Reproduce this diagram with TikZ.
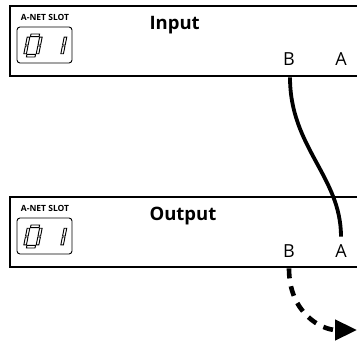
\documentclass[tikz,border=0pt]{standalone}
\usepackage{fontspec}
\setmainfont{Open Sans}
\usetikzlibrary{arrows.meta}
\tikzset{
	panel/.style = {draw, line width = 2.4pt, minimum width = 360pt, minimum height = 70pt, anchor = north west, inner sep = 0pt},
	title/.style = {font = \bfseries\fontsize{18.5}{18.5}\selectfont, anchor = base west},
	port/.style = {font = \fontsize{18}{18}\selectfont, anchor = base},
	slot/.style = {font = \bfseries\fontsize{8.5}{8.5}\selectfont},
	seg/.style = {draw, line width = 0.9pt, fill = white},
	cable/.style = {line width = 3.8pt},
	flow/.style = {line width = 4.6pt, dash pattern = on 10pt off 8pt, -{Triangle[length = 22pt, width = 20pt]}},
	pics/slotdisplay/.style = {code = {
		\node [slot] at (28,46) {A-NET SLOT};
		\draw [line width = 0.9pt, rounded corners = 3pt] (0,0) rectangle (55,36);
		\begin{scope} [xslant = 0.2, shift = {(5,6)}]
			% the 0
			\draw [seg] (3.2,20.4) rectangle (11.8,23);
			\draw [seg] (3.2,0) rectangle (11.8,2.6);
			\foreach \x in {0,12.4} {
				\draw [seg] (\x,3.2) rectangle (\x+2.6,11);
				\draw [seg] (\x,12) rectangle (\x+2.6,19.8);
			}
			% the 1
			\draw [seg] (37,3.2) rectangle (39.6,11);
			\draw [seg] (37,12) rectangle (39.6,19.8);
		\end{scope}
	}}
}
\begin{document}
\begin{tikzpicture} [x = 1pt, y = 1pt]
	\useasboundingbox (0,0) rectangle (357,341);
	% input module
	\node [panel] (inbox) at (9,336) {};
	\pic at (17,278) {slotdisplay};
	\node [title] (intitle) at (146,312) {Input};
	\node [port] (inB) at (289,275) {B};
	\node [port] (inA) at (341,275) {A};
	% output module
	\node [panel] (outbox) at (9,145) {};
	\pic at (17,87) {slotdisplay};
	\node [title] (outtitle) at (146,121) {Output};
	\node [port] (outB) at (289,84) {B};
	\node [port] (outA) at (341,84) {A};
	% cable and signal
	\coordinate (inB port) at ([xshift = 1pt] inB |- inbox.south);
	\coordinate (outA port) at ([yshift = 4pt] outA.north);
	\coordinate (outB port) at (outB |- outbox.south);
	\coordinate (exit) at (357,11);
	\draw [cable] (inB port) .. controls +(0,-70) and +(0,60) .. (outA port);
	\draw [flow] (outB port) .. controls +(0,-45) and +(-35,0) .. (exit);
\end{tikzpicture}
\end{document}
